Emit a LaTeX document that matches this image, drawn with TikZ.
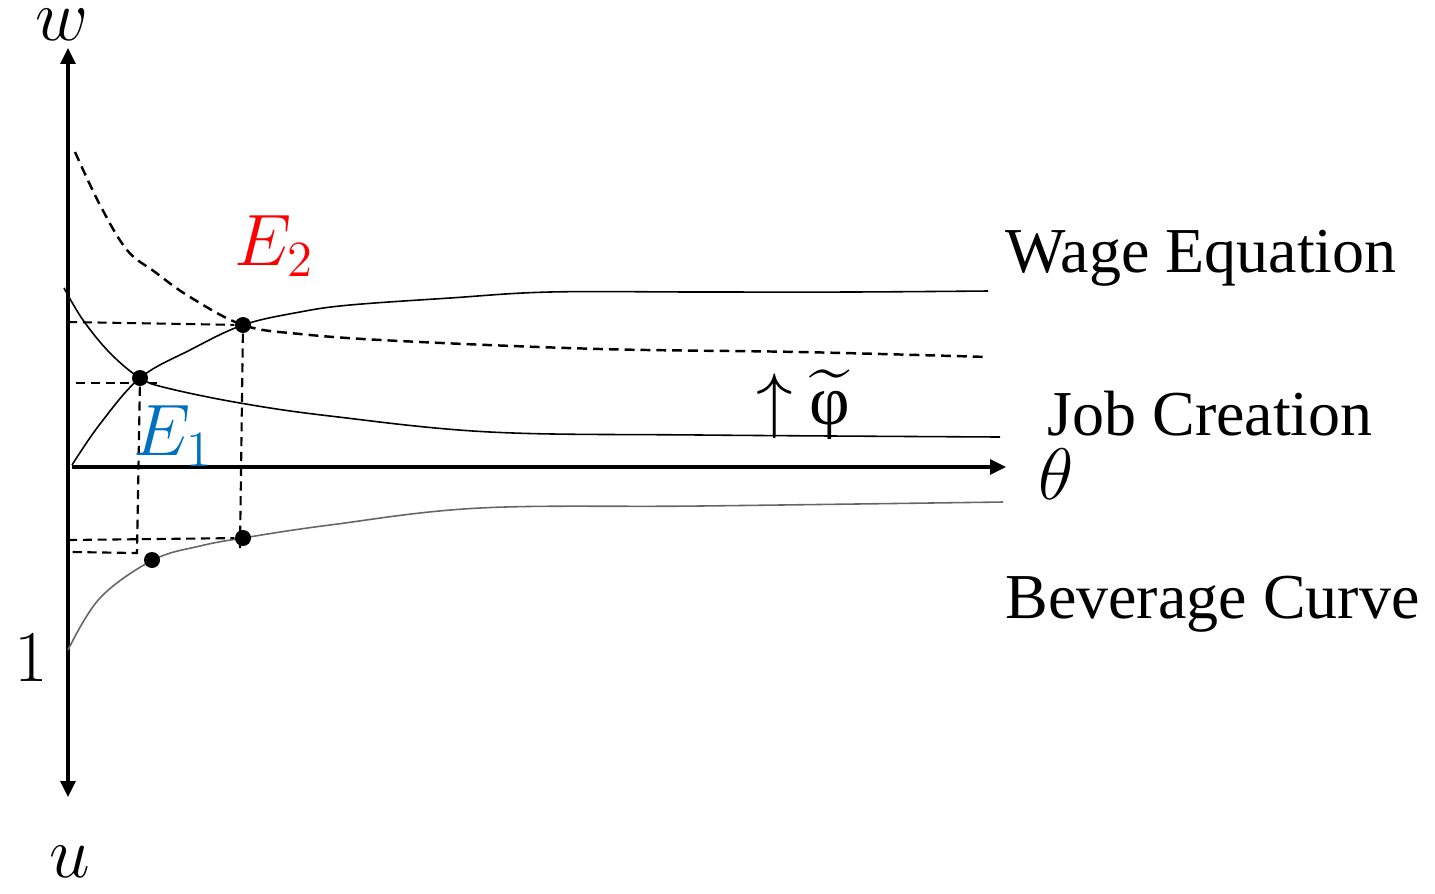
\documentclass[tikz,border=0pt]{standalone}
\usepackage{amsmath}
\usepackage{fontspec}
\setmainfont{Liberation Serif}
\usetikzlibrary{arrows.meta}
\definecolor{eblue}{RGB}{0,112,192}
\definecolor{ered}{RGB}{255,0,0}

\begin{document}
\begin{tikzpicture}[
  x=0.01cm, y=-0.01cm,
  axis/.style={line width=0.9pt, >={Triangle[length=4.5pt,width=4.2pt]}},
  curve/.style={line width=0.45pt},
  shifted/.style={line width=0.7pt, dash pattern=on 2.8pt off 1.7pt},
  guide/.style={line width=0.6pt, dash pattern=on 2.6pt off 1.6pt},
  dot/.style={circle, fill, inner sep=0pt, minimum size=0.16cm},
  lbl/.style={font=\fontsize{18.2}{22}\selectfont, anchor=west},
  var/.style={font=\fontsize{20}{24}\selectfont}
]
\useasboundingbox (0,0) rectangle (1435,893);

% axes
\coordinate (top) at (68,48);
\coordinate (bottom) at (68,797);
\coordinate (orig) at (72,467);
\coordinate (right) at (1006,467);
\draw[axis, <->] (bottom) -- (top);
\draw[axis, ->] (orig) -- (right);
\node[var] (w) at (62,25) {$w$};
\node[var] (u) at (70,862) {$u$};
\node[var] (theta) at (1056,474) {$\theta$};
\node[var] (one) at (31,658) {$1$};

% curves
\draw[curve] plot[smooth, tension=0.6] coordinates {(72,465) (100,424) (140,378) (190,350) (243,325) (300,312) (350,305) (450,298) (550,292) (700,292) (850,292) (988,291)};
\draw[curve] plot[smooth, tension=0.6] coordinates {(64,288) (83,320) (110,353) (140,378) (167,388) (240,403) (330,416) (490,432) (700,435) (1000,437)};
\draw[shifted] plot[smooth, tension=0.6] coordinates {(75,152) (100,205) (127,250) (155,272) (190,297) (243,325) (300,334) (400,341) (600,349) (800,352) (988,357)};
\draw[curve, black!60] plot[smooth, tension=0.6] coordinates {(68,650) (100,598) (153,560) (200,546) (243,538) (330,525) (480,508) (700,506) (1003,502)};

% equilibria
\node[dot] (e1) at (140,378) {};
\node[dot] (e2) at (243,325) {};
\node[dot] (u1) at (152,560) {};
\node[dot] (u2) at (243,538) {};

\coordinate (e1l) at (76,383);
\coordinate (e1r) at (157,383);
\coordinate (e1d) at (137,553);
\coordinate (u1l) at (72,552);
\coordinate (e2l) at (68,322);
\coordinate (e2d) at (240,548);
\coordinate (u2l) at (68,540);

\draw[guide] (e2l) -- (e2);
\draw[guide] (e2) -- (e2d);
\draw[guide] (e1l) -- (e1r);
\draw[guide] (e1) -- (e1d) -- (u1l);
\draw[guide] (u2l) -- (u2);

\node[var, text=ered] (e2lab) at (274,246) {$E_2$};
\node[var, text=eblue] (e1lab) at (173,436) {$E_1$};
\node[var] (shift) at (803,405) {$\uparrow\mkern-1mu\widetilde{\text{φ}}$};

% curve names
\node[lbl] (wage) at (993,258) {Wage Equation};
\node[lbl] (job) at (1035,414) {Job Creation};
\node[lbl] (bev) at (993,604) {Beverage Curve};
\end{tikzpicture}
\end{document}
